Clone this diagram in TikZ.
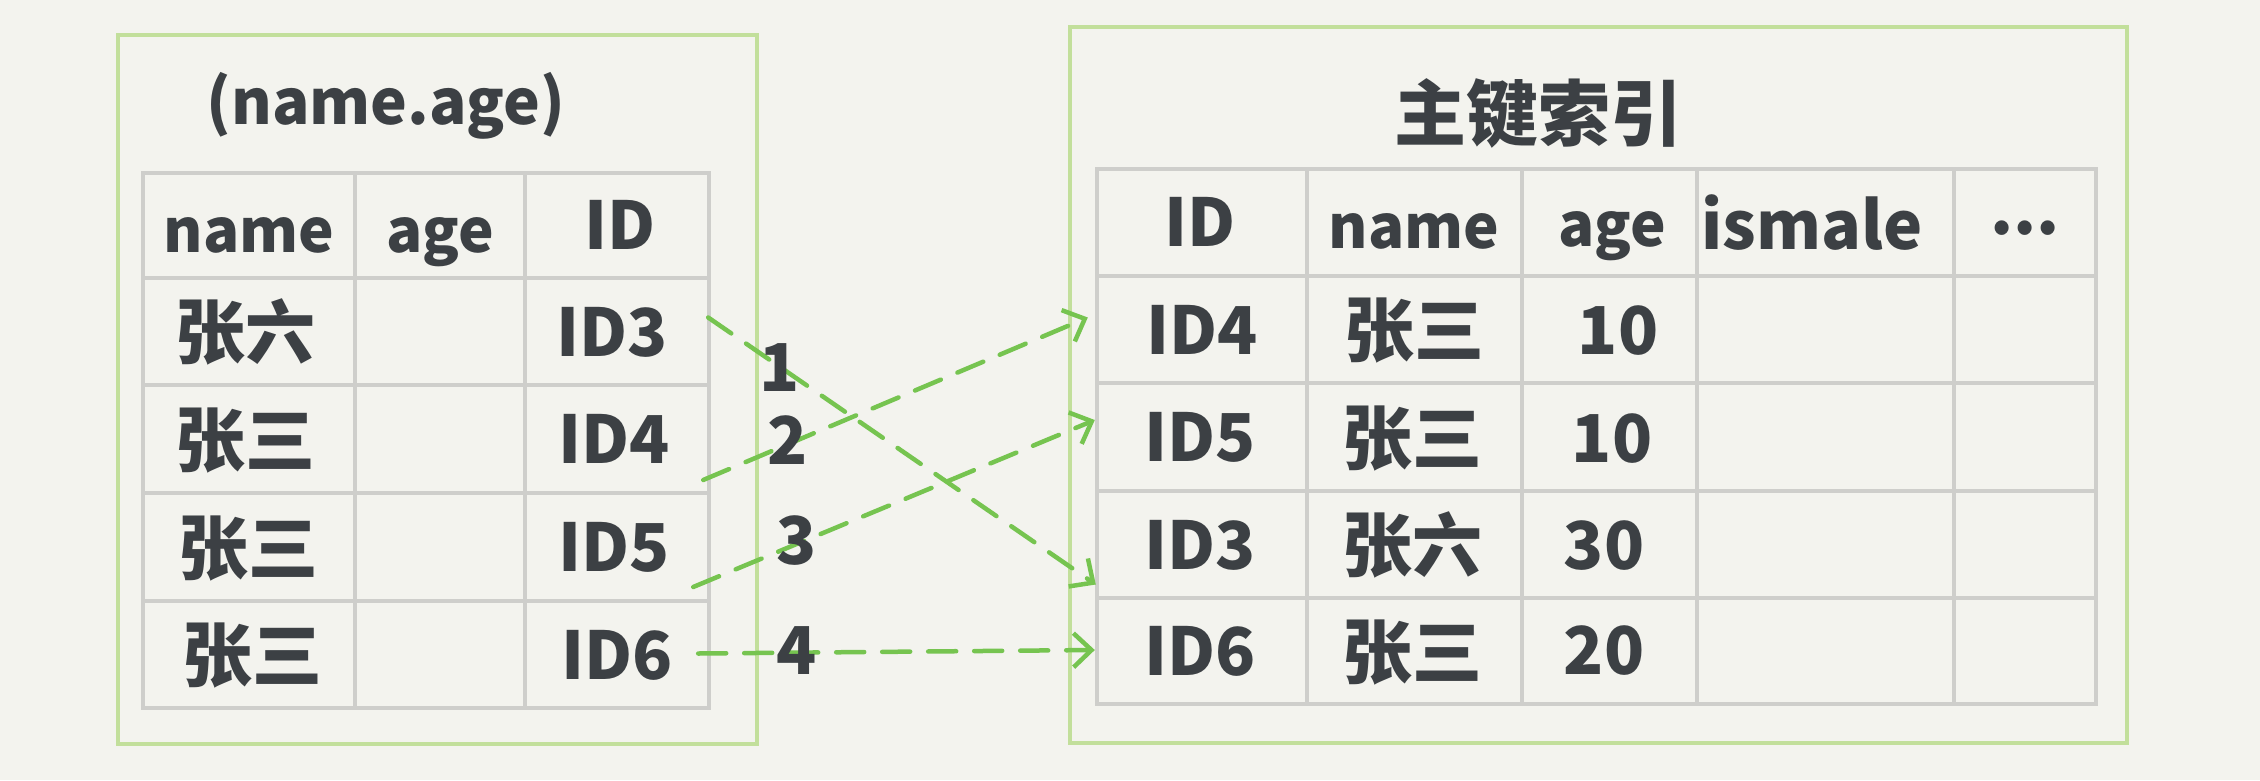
\documentclass[tikz,border=0pt]{standalone}
\usepackage{fontspec}
\setmainfont{Noto Sans CJK SC}
\usetikzlibrary{arrows.meta,calc}
\definecolor{bgc}{RGB}{243,243,238}
\definecolor{framec}{RGB}{194,223,155}
\definecolor{gridc}{RGB}{206,206,203}
\definecolor{inkc}{RGB}{60,64,68}
\definecolor{arrowc}{RGB}{118,196,80}
\tikzset{
  txt/.style={text=inkc,inner sep=0pt,font=\fontsize{66}{70}\selectfont\bfseries,text height=49pt,text depth=0pt},
  hdr/.style={txt,font=\fontsize{60}{64}\selectfont\bfseries,text height=44pt},
  cjk/.style={txt,font=\fontsize{70}{72}\selectfont\bfseries,text height=52pt},
  frame/.style={draw=framec,line width=3.5pt},
  grid/.style={draw=gridc,line width=4pt},
  titleL/.style={txt,font=\fontsize{62}{66}\selectfont\bfseries,text height=46pt},
  titleR/.style={txt,font=\fontsize{72}{76}\selectfont\bfseries,text height=53pt},
  cellL/.style={txt,minimum width=184pt,minimum height=107pt},
  cellR/.style={txt,minimum width=210pt,minimum height=107pt},
  lbl/.style={txt},
  link/.style={draw=arrowc,line width=4.5pt,dash pattern=on 28pt off 18pt,line cap=round,
    -{Straight Barb[length=18pt,width=34pt,line width=4.5pt]}}
}
\begin{document}
\begin{tikzpicture}[x=1pt,y=-1pt]
\fill[bgc] (0,0) rectangle (2260,780);
\useasboundingbox (0,0) rectangle (2260,780);
% frames
\draw[frame] (118,35) rectangle (757,744);
\draw[frame] (1070,27) rectangle (2127,743);
% left grid
\draw[grid] (143,173) rectangle (709,708);
\foreach \x in {355,525} \draw[grid] (\x,173) -- (\x,708);
\foreach \y in {278,385,493,601} \draw[grid] (143,\y) -- (709,\y);
% right grid
\draw[grid] (1097,169) rectangle (2096,704);
\foreach \x in {1307,1522,1697,1954} \draw[grid] (\x,169) -- (\x,704);
\foreach \y in {276,383,491,598} \draw[grid] (1097,\y) -- (2096,\y);
% titles
\node[titleL] (tl) at (386,101) {(name.age)};
\node[titleR] (tr) at (1538,114) {主键索引};
% left table
\node[hdr] (lh1) at (249,230) {name};
\node[hdr] (lh2) at (440,230) {age};
\node[txt] (lh3) at (620,225) {ID};
\node[cjk] (ln3) at (245,332) {张六};
\node[cjk] (ln4) at (245,440) {张三};
\node[cjk] (ln5) at (248,548) {张三};
\node[cjk] (ln6) at (252,655) {张三};
\node[cellL] (L3) at (612,331.5) {ID3};
\node[cellL] (L4) at (614,439) {ID4};
\node[cellL] (L5) at (614,547) {ID5};
\node[cellL] (L6) at (617,654.5) {ID6};
% right table
\node[txt] (rh1) at (1200,222) {ID};
\node[hdr] (rh2) at (1414,226) {name};
\node[hdr] (rh3) at (1612,224) {age};
\node[txt] (rh4) at (1812,225) {ismale};
\node[txt] (rh5) at (2025,222) {\raisebox{12pt}{...}};
\node[cellR] (R4) at (1202,329.5) {ID4};
\node[cellR] (R5) at (1200,437) {ID5};
\node[cellR] (R3) at (1200,544.5) {ID3};
\node[cellR] (R6) at (1200,651) {ID6};
\node[cjk] (rn4) at (1414,330) {张三};
\node[cjk] (rn5) at (1412,438) {张三};
\node[cjk] (rn3) at (1412,545) {张六};
\node[cjk] (rn6) at (1412,652) {张三};
\node[txt] (ra4) at (1618,330) {10};
\node[txt] (ra5) at (1612,438) {10};
\node[txt] (ra3) at (1604,545) {30};
\node[txt] (ra6) at (1604,650) {20};
% arrows
\draw[link] ($(L3.east)+(4,-14)$) -- ($(R3.west)+(1,40)$);
\draw[link] ($(L4.east)+(-3,41)$) -- ($(R4.west)+(-9,-12)$);
\draw[link] ($(L5.east)+(-13,40)$) -- ($(R5.west)+(0,-17)$);
\draw[link] ($(L6.east)+(-11,-1)$) -- ($(R6.west)+(0,-1)$);
% step labels
\node[lbl] (n1) at (780,367) {1};
\node[lbl] (n2) at (788,440) {2};
\node[lbl] (n3) at (797,540) {3};
\node[lbl] (n4) at (797,650) {4};
\end{tikzpicture}
\end{document}
